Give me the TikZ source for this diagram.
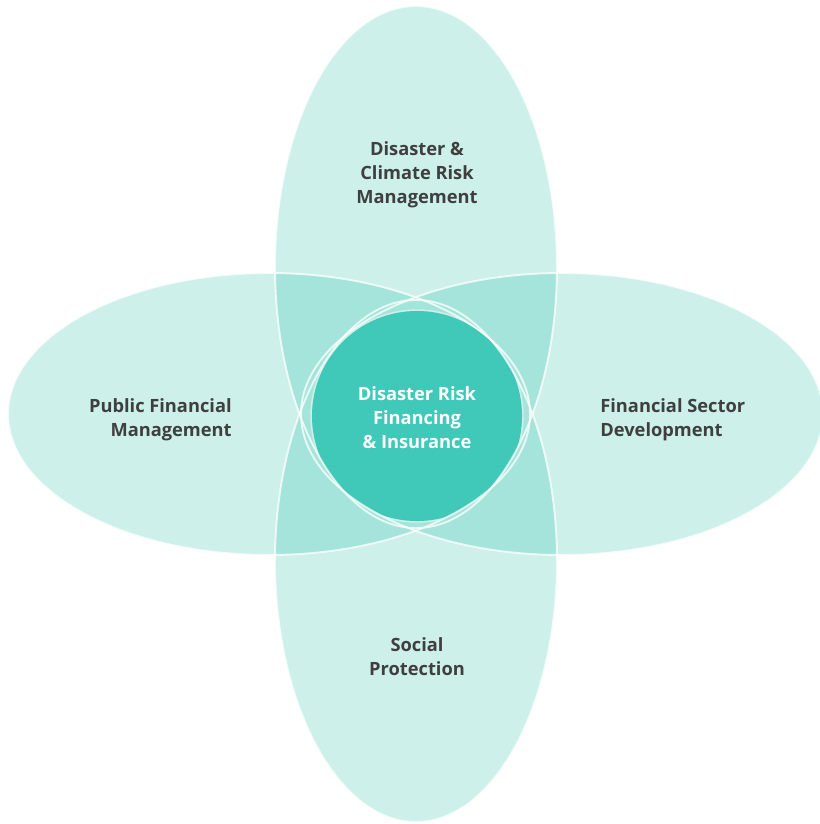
\documentclass[tikz,border=0pt]{standalone}
\usepackage{fontspec}
\setmainfont{Open Sans}
\usepackage{tikz}
\definecolor{petal}{HTML}{CDF0EA}
\definecolor{lens}{HTML}{A4E4DA}
\definecolor{hub}{HTML}{40C8B8}
\definecolor{ink}{HTML}{3F3F3F}
\tikzset{petalfill/.style={fill=petal}}
\tikzset{lensfill/.style={fill=lens}}
\tikzset{rim/.style={draw=white, draw opacity=0.75, line width=1.1pt}}
\tikzset{areatext/.style={font=\bfseries\fontsize{10.4}{13.6}\selectfont, text=ink, align=center, inner sep=0}}

\begin{document}
\begin{tikzpicture}[x=0.02cm, y=-0.02cm]
    \useasboundingbox (0, 0) rectangle (820, 824);
    \coordinate (T) at (416, 267);
    \coordinate (B) at (416, 561);
    \coordinate (L) at (269, 414);
    \coordinate (R) at (562, 414);
    \coordinate (C) at (417, 416);

    \fill[petalfill] (T) ellipse (141 and 261);
    \fill[petalfill] (B) ellipse (141 and 261);
    \fill[petalfill] (L) ellipse (261 and 141);
    \fill[petalfill] (R) ellipse (261 and 141);

    \begin{scope}
      \clip (T) ellipse (141 and 261);
      \fill[lensfill] (L) ellipse (261 and 141);
      \fill[lensfill] (R) ellipse (261 and 141);
      \fill[lensfill] (B) ellipse (141 and 261);
    \end{scope}
    \begin{scope}
      \clip (B) ellipse (141 and 261);
      \fill[lensfill] (L) ellipse (261 and 141);
      \fill[lensfill] (R) ellipse (261 and 141);
    \end{scope}
    \begin{scope}
      \clip (L) ellipse (261 and 141);
      \fill[lensfill] (R) ellipse (261 and 141);
    \end{scope}

    \begin{scope}
      \clip (T) ellipse (141 and 261);
      \clip (B) ellipse (141 and 261);
      \clip (L) ellipse (261 and 141);
      \clip (R) ellipse (261 and 141);
      \fill[hub] (C) circle (105);
      \draw[white, draw opacity=0.45, line width=0.8pt] (C) circle (106);
    \end{scope}

    \draw[rim] (T) ellipse (141 and 261);
    \draw[rim] (B) ellipse (141 and 261);
    \draw[rim] (L) ellipse (261 and 141);
    \draw[rim] (R) ellipse (261 and 141);

    \node[areatext] at (417, 175) (dcrm) {Disaster \&\\Climate Risk\\Management};
    \node[areatext, align=right, anchor=east] at (232, 420) (pfm) {Public Financial\\Management};
    \node[areatext, align=left, anchor=west] at (600, 420) (fsd) {Financial Sector\\Development};
    \node[areatext] at (417, 657) (sp) {Social\\Protection};
    \node[areatext, text=white] at (417, 418) (drfi) {Disaster Risk\\Financing\\\& Insurance};
\end{tikzpicture}
\end{document}
